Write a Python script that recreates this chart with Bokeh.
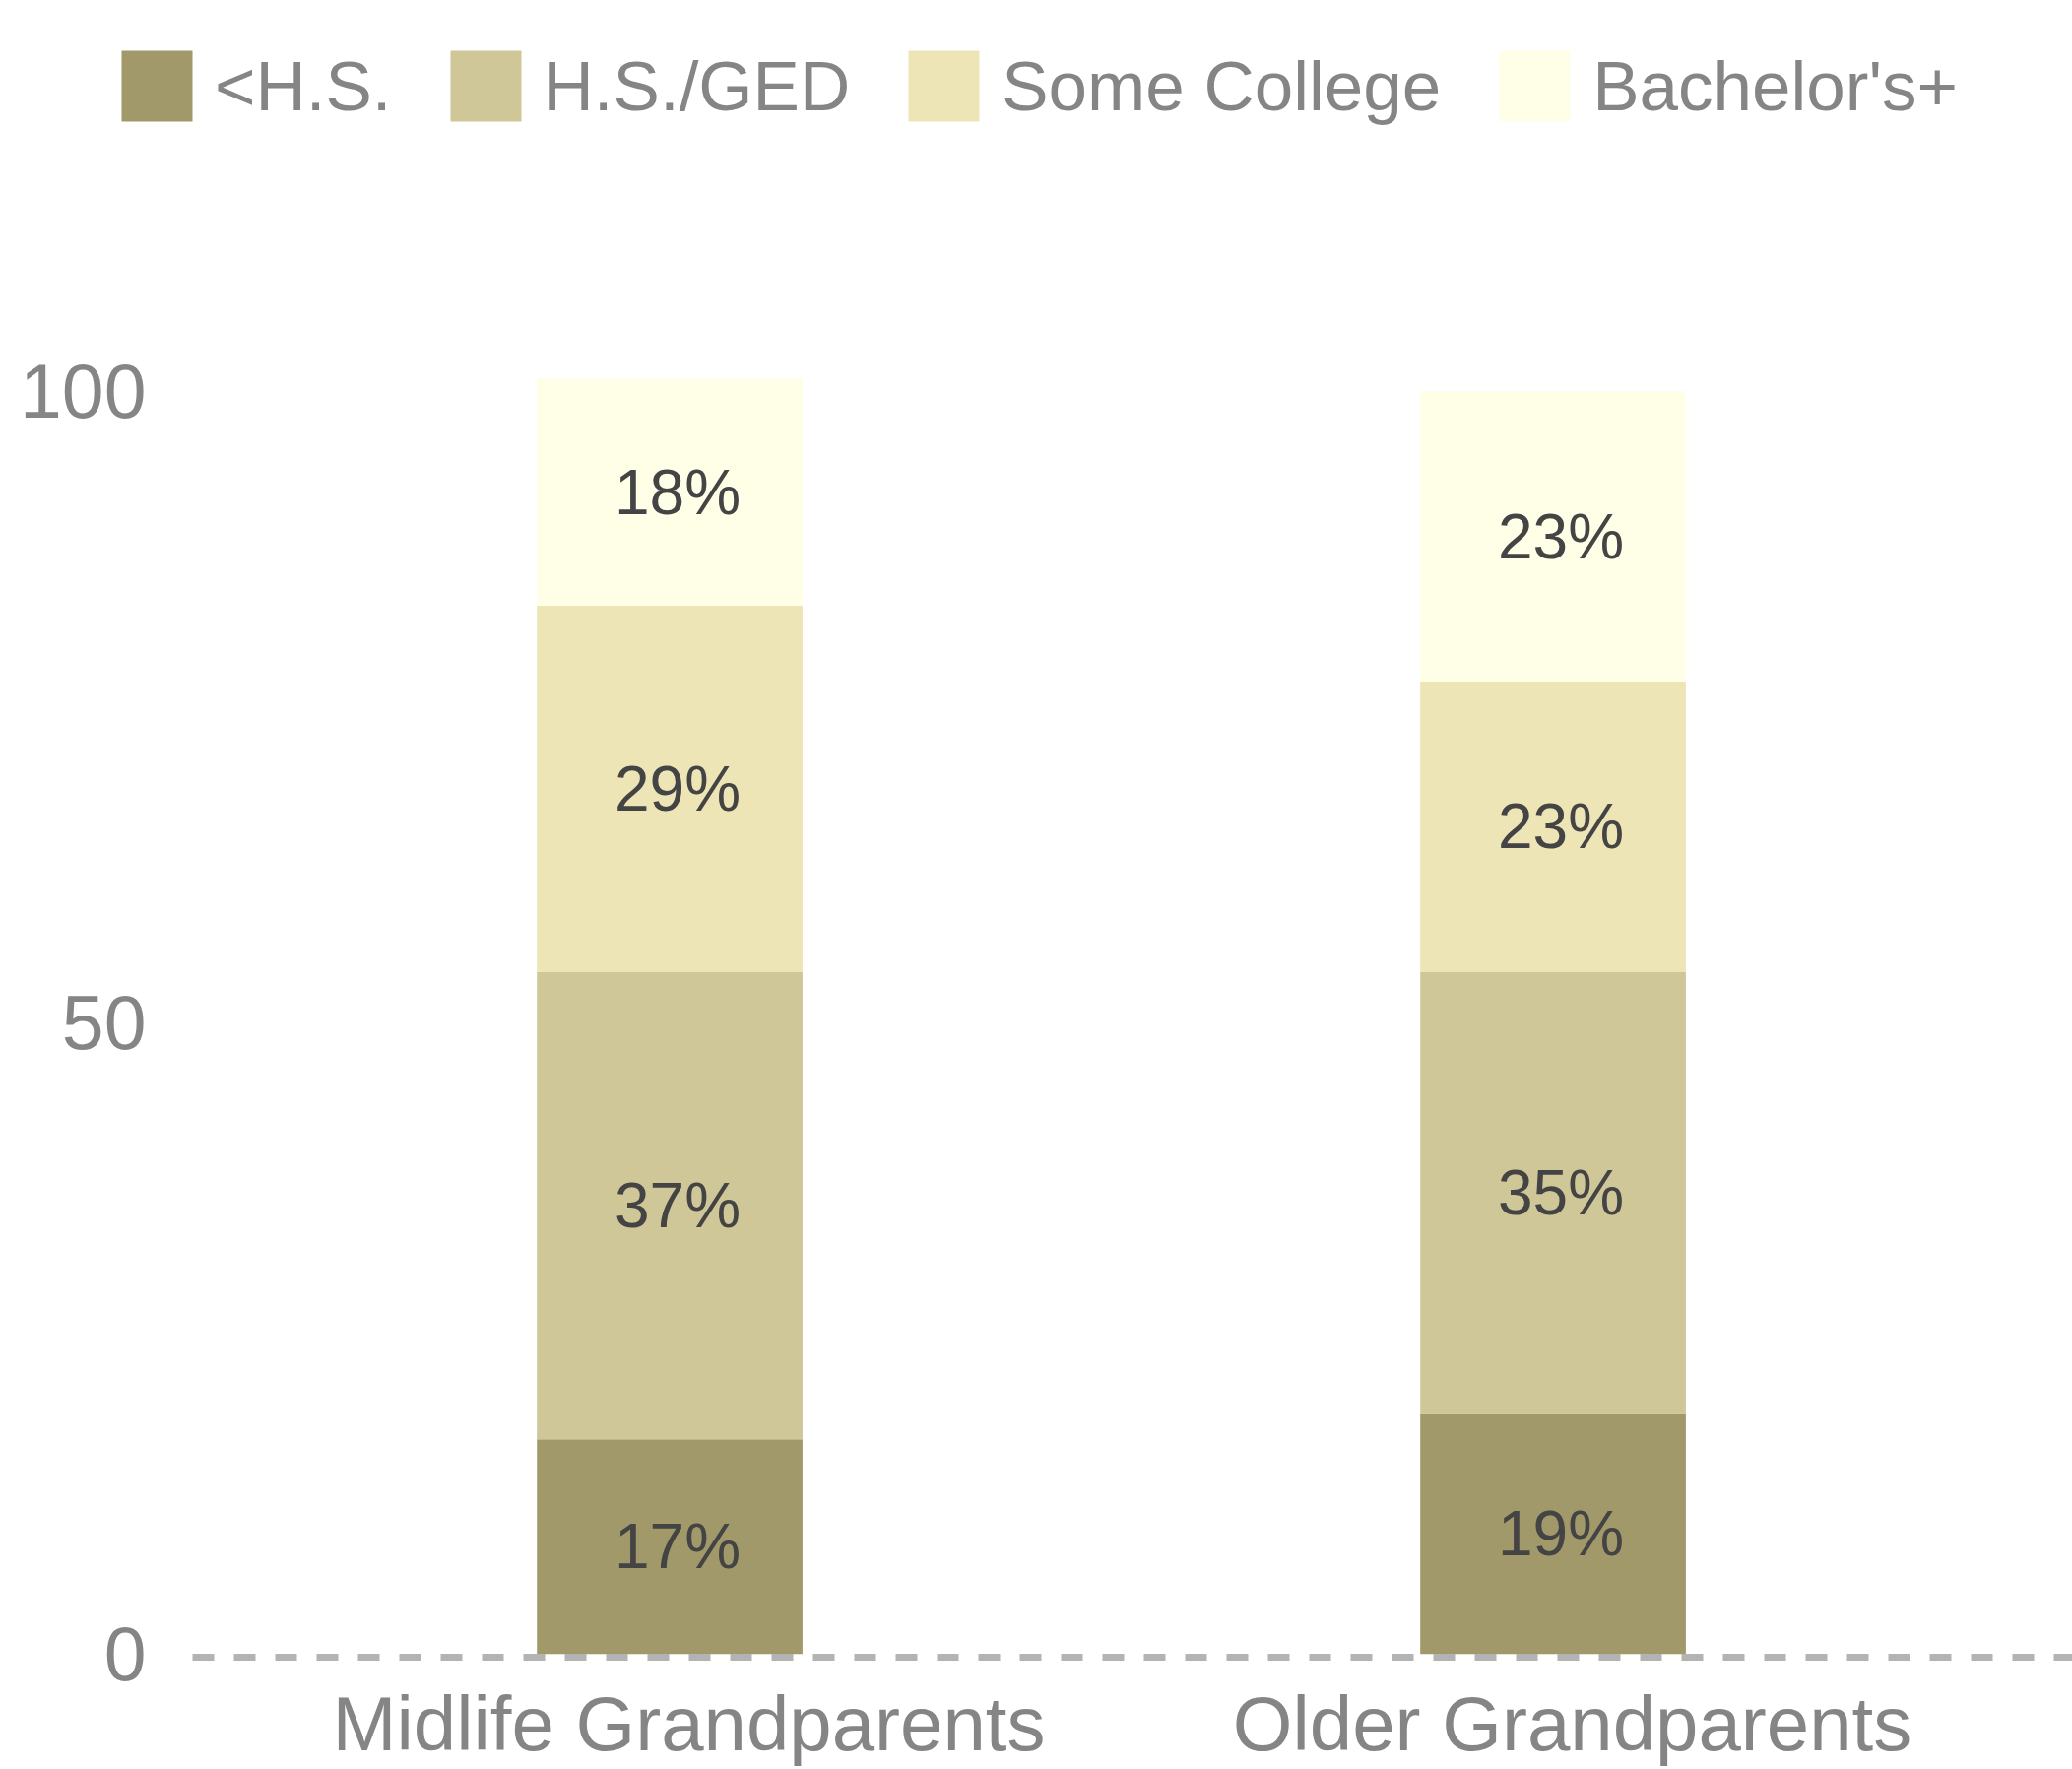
import numpy as np
from bokeh.plotting import figure
from bokeh.models import (ColumnDataSource, FixedTicker, Legend,
                          LegendItem, Range1d)
from bokeh.transform import dodge
from bokeh.core.properties import value
from bokeh.embed import file_html
from bokeh.resources import INLINE

# ---- data ----
groups = ["Midlife Grandparents", "Older Grandparents"]
levels = ["<H.S.", "H.S./GED", "Some College", "Bachelor's+"]
less_hs = [17, 19]
hs_ged = [37, 35]
some_college = [29, 23]
bachelors = [18, 23]
colors = ["#a1996a", "#cfc798", "#ede5b6", "#fffee6"]
y_ticks = [0, 50, 100]

keys = ["lhs", "hs", "sc", "ba"]
series = [less_hs, hs_ged, some_college, bachelors]
idx = list(range(len(groups)))

FONT = "Liberation Sans"
GRAY = "#858585"

source = ColumnDataSource(dict(idx=idx, group=groups, lhs=less_hs, hs=hs_ged,
                               sc=some_college, ba=bachelors))

p = figure(width=2104, height=1796, output_backend="svg", toolbar_location=None,
           x_range=Range1d(-0.6678, 1.5663),
           y_range=Range1d(-0.257, 130.94),
           min_border_left=100, min_border_right=0, min_border_top=0,
           min_border_bottom=0, title=None)
p.outline_line_color = None
p.background_fill_color = "white"
p.grid.visible = False

bar_x = dodge("idx", -0.0217, range=p.x_range)
renderers = p.vbar_stack(keys, x=bar_x, width=0.3007, color=colors,
                         line_color=None, source=source)

# percentage labels at segment centres
vals = np.array(series, dtype=float)
tops = np.cumsum(vals, axis=0)
bottoms = tops - vals
lab_x, lab_y, lab_text = [], [], []
for i in range(len(keys)):
    for j in idx:
        lab_x.append(j)
        lab_y.append((tops[i, j] + bottoms[i, j]) / 2)
        lab_text.append(f"{int(vals[i, j])}%")
lab_src = ColumnDataSource(dict(x=lab_x, y=lab_y, text=lab_text))
p.text(x=dodge("x", -0.0217, range=p.x_range), y="y", text="text",
       source=lab_src, x_offset=8, text_align="center", text_baseline="middle",
       text_font=value(FONT), text_font_size="64px", text_color="#444444")

# y axis
p.yaxis.ticker = FixedTicker(ticks=y_ticks)
p.yaxis.axis_line_color = None
p.yaxis.major_tick_line_color = None
p.yaxis.minor_tick_line_color = None
p.yaxis.major_tick_out = 0
p.yaxis.major_tick_in = 0
p.yaxis.major_label_standoff = -48
p.yaxis.major_label_text_font = FONT
p.yaxis.major_label_text_font_size = "77px"
p.yaxis.major_label_text_color = GRAY

# x axis: category labels, dashed baseline
p.xaxis.ticker = FixedTicker(ticks=idx)
p.xaxis.major_label_overrides = {i: g for i, g in zip(idx, groups)}
p.xaxis.bounds = (-0.562, 1.5663)
p.xaxis.axis_line_color = "#b3b3b3"
p.xaxis.axis_line_width = 7
p.xaxis.axis_line_dash = "22 20"
p.xaxis.major_tick_line_color = None
p.xaxis.minor_tick_line_color = None
p.xaxis.major_tick_out = 0
p.xaxis.major_tick_in = 0
p.xaxis.major_label_standoff = 23
p.xaxis.major_label_text_font = FONT
p.xaxis.major_label_text_font_size = "78px"
p.xaxis.major_label_text_color = GRAY

legend = Legend(items=[LegendItem(label=l, renderers=[r]) for l, r in zip(levels, renderers)],
                orientation="horizontal", location=(14, 1550),
                glyph_width=90, glyph_height=90, label_standoff=14, spacing=50,
                padding=0, margin=0, border_line_color=None,
                background_fill_alpha=0, label_text_font=FONT,
                label_text_font_size="71px", label_text_color=GRAY)
p.add_layout(legend)

open("out.html", "w").write(file_html(p, INLINE))
